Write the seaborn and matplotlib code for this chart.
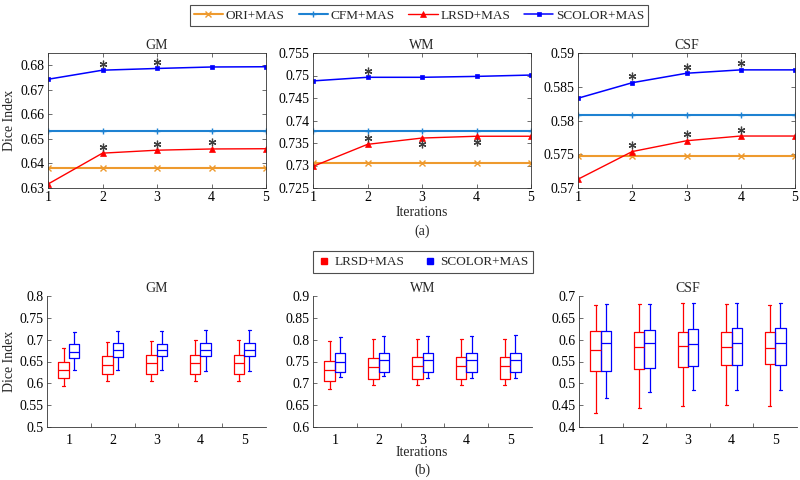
import numpy as np
import pandas as pd
import matplotlib
matplotlib.use('Agg')
import matplotlib.pyplot as plt
import seaborn as sns
from matplotlib.lines import Line2D
from matplotlib.transforms import offset_copy

# ---------------- data ----------------
iterations = [1, 2, 3, 4, 5]
tissues = ['GM', 'WM', 'CSF']
line_methods = ['ORI+MAS', 'CFM+MAS', 'LRSD+MAS', 'SCOLOR+MAS']
box_methods = ['LRSD+MAS', 'SCOLOR+MAS']

gm_ori = [0.6383, 0.6383, 0.6383, 0.6383, 0.6383]
gm_cfm = [0.6534, 0.6534, 0.6534, 0.6534, 0.6534]
gm_lrsd = [0.6316, 0.6442, 0.6454, 0.6459, 0.6460]
gm_scolor = [0.6743, 0.6780, 0.6787, 0.6793, 0.6794]

wm_ori = [0.7305, 0.7305, 0.7305, 0.7305, 0.7305]
wm_cfm = [0.7377, 0.7377, 0.7377, 0.7377, 0.7377]
wm_lrsd = [0.7298, 0.7347, 0.7361, 0.7365, 0.7365]
wm_scolor = [0.7488, 0.7496, 0.7496, 0.7498, 0.7501]

csf_ori = [0.5748, 0.5748, 0.5748, 0.5748, 0.5748]
csf_cfm = [0.5808, 0.5808, 0.5808, 0.5808, 0.5808]
csf_lrsd = [0.5713, 0.5754, 0.5770, 0.5777, 0.5777]
csf_scolor = [0.5833, 0.5856, 0.5870, 0.5875, 0.5875]

# significance marks: 1 = asterisk above point, -1 = below, 0 = none
gm_lrsd_sig = [0, 1, 1, 1, 0]
gm_scolor_sig = [0, 1, 1, 0, 0]
wm_lrsd_sig = [0, 1, -1, -1, 0]
wm_scolor_sig = [0, 1, 0, 0, 0]
csf_lrsd_sig = [0, 1, 1, 1, 0]
csf_scolor_sig = [0, 1, 1, 1, 0]

# box summaries per iteration: [whisker low, q1, median, q3, whisker high]
gm_lrsd_box = [
    [0.5938, 0.6123, 0.6300, 0.6500, 0.6815],
    [0.6062, 0.6208, 0.6431, 0.6631, 0.6946],
    [0.6054, 0.6208, 0.6462, 0.6654, 0.6969],
    [0.6054, 0.6215, 0.6470, 0.6654, 0.6985],
    [0.6054, 0.6215, 0.6470, 0.6654, 0.6985]]
gm_scolor_box = [
    [0.6315, 0.6569, 0.6708, 0.6908, 0.7177],
    [0.6315, 0.6608, 0.6762, 0.6923, 0.7200],
    [0.6300, 0.6615, 0.6762, 0.6908, 0.7200],
    [0.6285, 0.6623, 0.6769, 0.6923, 0.7223],
    [0.6285, 0.6630, 0.6769, 0.6930, 0.7223]]
wm_lrsd_box = [
    [0.6869, 0.7054, 0.7315, 0.7508, 0.7962],
    [0.6969, 0.7092, 0.7385, 0.7577, 0.8008],
    [0.6969, 0.7108, 0.7400, 0.7592, 0.8015],
    [0.6969, 0.7108, 0.7392, 0.7600, 0.8015],
    [0.6962, 0.7108, 0.7392, 0.7600, 0.8015]]
wm_scolor_box = [
    [0.7146, 0.7254, 0.7500, 0.7700, 0.8069],
    [0.7162, 0.7262, 0.7523, 0.7700, 0.8092],
    [0.7123, 0.7254, 0.7523, 0.7700, 0.8092],
    [0.7123, 0.7254, 0.7523, 0.7700, 0.8092],
    [0.7123, 0.7254, 0.7523, 0.7700, 0.8108]]
csf_lrsd_box = [
    [0.4315, 0.5277, 0.5762, 0.6192, 0.6800],
    [0.4431, 0.5323, 0.5831, 0.6177, 0.6815],
    [0.4477, 0.5385, 0.5862, 0.6185, 0.6831],
    [0.4500, 0.5431, 0.5838, 0.6177, 0.6815],
    [0.4485, 0.5454, 0.5808, 0.6169, 0.6800]]
csf_scolor_box = [
    [0.4669, 0.5292, 0.5915, 0.6200, 0.6808],
    [0.4808, 0.5346, 0.5931, 0.6223, 0.6815],
    [0.4838, 0.5400, 0.5908, 0.6246, 0.6831],
    [0.4838, 0.5415, 0.5915, 0.6262, 0.6831],
    [0.4838, 0.5415, 0.5923, 0.6262, 0.6831]]

top_ylims = {'GM': (0.63, 0.685), 'WM': (0.725, 0.755), 'CSF': (0.57, 0.59)}
top_yticks = {'GM': [0.63, 0.64, 0.65, 0.66, 0.67, 0.68],
              'WM': [0.725, 0.73, 0.735, 0.74, 0.745, 0.75, 0.755],
              'CSF': [0.57, 0.575, 0.58, 0.585, 0.59]}
bot_ylims = {'GM': (0.5, 0.8), 'WM': (0.6, 0.9), 'CSF': (0.4, 0.7)}
bot_yticks = {'GM': [0.5, 0.55, 0.6, 0.65, 0.7, 0.75, 0.8],
              'WM': [0.6, 0.65, 0.7, 0.75, 0.8, 0.85, 0.9],
              'CSF': [0.4, 0.45, 0.5, 0.55, 0.6, 0.65, 0.7]}

# ---------------- style ----------------
sns.set_theme(style='ticks')
plt.rcParams['font.family'] = ['Liberation Serif', 'DejaVu Serif']
plt.rcParams['axes.edgecolor'] = '#333333'
plt.rcParams['axes.linewidth'] = 0.6
plt.rcParams['xtick.color'] = '#333333'
plt.rcParams['ytick.color'] = '#333333'
plt.rcParams['xtick.labelcolor'] = 'black'
plt.rcParams['ytick.labelcolor'] = 'black'

colors = {'ORI+MAS': '#EE9A2E', 'CFM+MAS': '#1E82D2',
          'LRSD+MAS': '#FF0000', 'SCOLOR+MAS': '#0000FF'}
line_style = {
    'ORI+MAS': dict(marker='x', markersize=4, markeredgewidth=1.0, linewidth=1.5),
    'CFM+MAS': dict(marker='+', markersize=4.5, markeredgewidth=1.0, linewidth=1.5),
    'LRSD+MAS': dict(marker='^', markersize=4.5, markeredgewidth=0.5, linewidth=1.0),
    'SCOLOR+MAS': dict(marker='s', markersize=3.2, markeredgewidth=0.5, linewidth=1.1),
}

W, H = 800, 480
fig = plt.figure(figsize=(8, 4.8), dpi=100)

def rect(l, r, t, b):
    return [l / W, 1 - b / H, (r - l) / W, (b - t) / H]

top_rects = {'GM': rect(48, 266, 53, 188), 'WM': rect(313, 531, 53, 188),
             'CSF': rect(578, 795, 53, 188)}
bot_rects = {'GM': rect(47, 266, 296, 427), 'WM': rect(313, 532, 296, 427),
             'CSF': rect(579, 797, 296, 427)}

line_data = {
    'GM': {'ORI+MAS': gm_ori, 'CFM+MAS': gm_cfm, 'LRSD+MAS': gm_lrsd, 'SCOLOR+MAS': gm_scolor},
    'WM': {'ORI+MAS': wm_ori, 'CFM+MAS': wm_cfm, 'LRSD+MAS': wm_lrsd, 'SCOLOR+MAS': wm_scolor},
    'CSF': {'ORI+MAS': csf_ori, 'CFM+MAS': csf_cfm, 'LRSD+MAS': csf_lrsd, 'SCOLOR+MAS': csf_scolor},
}
sig_data = {
    'GM': {'LRSD+MAS': gm_lrsd_sig, 'SCOLOR+MAS': gm_scolor_sig},
    'WM': {'LRSD+MAS': wm_lrsd_sig, 'SCOLOR+MAS': wm_scolor_sig},
    'CSF': {'LRSD+MAS': csf_lrsd_sig, 'SCOLOR+MAS': csf_scolor_sig},
}
box_data = {
    'GM': {'LRSD+MAS': gm_lrsd_box, 'SCOLOR+MAS': gm_scolor_box},
    'WM': {'LRSD+MAS': wm_lrsd_box, 'SCOLOR+MAS': wm_scolor_box},
    'CSF': {'LRSD+MAS': csf_lrsd_box, 'SCOLOR+MAS': csf_scolor_box},
}

tick_fs = 10
title_fs = 10

# ---------------- top row: line plots ----------------
top_axes = {}
for t in tissues:
    ax = fig.add_axes(top_rects[t])
    top_axes[t] = ax
    for m in line_methods:
        sns.lineplot(x=iterations, y=line_data[t][m], ax=ax, color=colors[m],
                     label=m, legend=False, markeredgecolor=colors[m],
                     **line_style[m])
    # significance asterisks
    up = offset_copy(ax.transData, fig=fig, x=0, y=6.5, units='dots')
    dn = offset_copy(ax.transData, fig=fig, x=0, y=-6, units='dots')
    for m in ['LRSD+MAS', 'SCOLOR+MAS']:
        vals = line_data[t][m]
        for i, s in enumerate(sig_data[t][m]):
            if s != 0:
                ax.plot([iterations[i]], [vals[i]], linestyle='none',
                        marker=(6, 2, 0), markersize=5.5, markeredgewidth=0.9,
                        color='#404040', transform=up if s > 0 else dn,
                        clip_on=False)
    ax.set_xlim(1, 5)
    ax.set_ylim(*top_ylims[t])
    ax.set_xticks(iterations)
    ax.set_xticklabels([str(i) for i in iterations])
    ax.set_yticks(top_yticks[t])
    ax.set_yticklabels(['%g' % v for v in top_yticks[t]])
    ax.tick_params(direction='in', length=3, width=0.5, labelsize=tick_fs,
                   top=True, right=True, pad=2.5)
    for sp in ax.spines.values():
        sp.set_visible(True)
    ax.set_title(t, fontsize=title_fs, pad=3)
    ax.set_xlabel('')
    ax.set_ylabel('')

top_axes['GM'].set_ylabel('Dice Index', fontsize=10)
top_axes['GM'].yaxis.set_label_coords(-0.145, 0.5)

fig.text(422 / W, 1 - 213 / H, 'Iterations', ha='center', va='center', fontsize=10)
fig.text(422 / W, 1 - 231 / H, '(a)', ha='center', va='center', fontsize=10)

handles, labels = top_axes['GM'].get_legend_handles_labels()
leg1 = fig.legend(handles, labels, loc='center', ncol=4, mode='expand',
                  bbox_to_anchor=(190 / W, 1 - 27 / H, 458 / W, 23 / H),
                  frameon=True, fancybox=False, edgecolor='#222222',
                  fontsize=9.5, handlelength=2.2, handletextpad=0.2,
                  columnspacing=0.3, borderpad=0.3, borderaxespad=0)
leg1.get_frame().set_linewidth(0.8)

# ---------------- bottom row: box plots ----------------
bot_axes = {}
for t in tissues:
    ax = fig.add_axes(bot_rects[t])
    bot_axes[t] = ax
    rows = []
    for m in box_methods:
        for i, it in enumerate(iterations):
            for v in box_data[t][m][i]:
                rows.append({'Iteration': str(it), 'Method': m, 'Dice': v})
    df = pd.DataFrame(rows)
    sns.boxplot(data=df, x='Iteration', y='Dice', hue='Method',
                hue_order=box_methods, order=[str(i) for i in iterations],
                palette={m: colors[m] for m in box_methods}, fill=False,
                width=0.48, gap=0, whis=(0, 100), linewidth=0.9,
                capwidths=0.07, ax=ax, legend=False)
    ax.set_xlim(-0.5, 4.5)
    ax.set_ylim(*bot_ylims[t])
    ax.set_yticks(bot_yticks[t])
    ax.set_yticklabels(['%g' % v for v in bot_yticks[t]])
    ax.set_xticks(range(len(iterations)))
    ax.set_xticklabels([str(i) for i in iterations])
    ax.set_xticks([0.5, 1.5, 2.5, 3.5], minor=True)
    ax.tick_params(axis='x', which='major', length=0, pad=5, labelsize=tick_fs)
    ax.tick_params(axis='x', which='minor', direction='in', length=3, width=0.5)
    ax.tick_params(axis='y', direction='in', length=3, width=0.5,
                   labelsize=tick_fs, pad=2.5)
    sns.despine(ax=ax)
    ax.set_title(t, fontsize=title_fs, pad=3)
    ax.set_xlabel('')
    ax.set_ylabel('')

bot_axes['GM'].set_ylabel('Dice Index', fontsize=10)
bot_axes['GM'].yaxis.set_label_coords(-0.14, 0.5)

fig.text(422 / W, 1 - 453 / H, 'Iterations', ha='center', va='center', fontsize=10)
fig.text(422 / W, 1 - 470 / H, '(b)', ha='center', va='center', fontsize=10)

box_handles = [Line2D([], [], linestyle='none', marker='s', markersize=5,
                      color=colors[m]) for m in box_methods]
leg2 = fig.legend(box_handles, box_methods, loc='center', ncol=2, mode='expand',
                  bbox_to_anchor=(313 / W, 1 - 275 / H, 220 / W, 26 / H),
                  frameon=True, fancybox=False, edgecolor='#222222',
                  fontsize=9.5, handlelength=1.0, handletextpad=0.3,
                  columnspacing=0.8, borderpad=0.35, borderaxespad=0)
leg2.get_frame().set_linewidth(0.8)

fig.savefig('out.png', dpi=100, facecolor='white')
